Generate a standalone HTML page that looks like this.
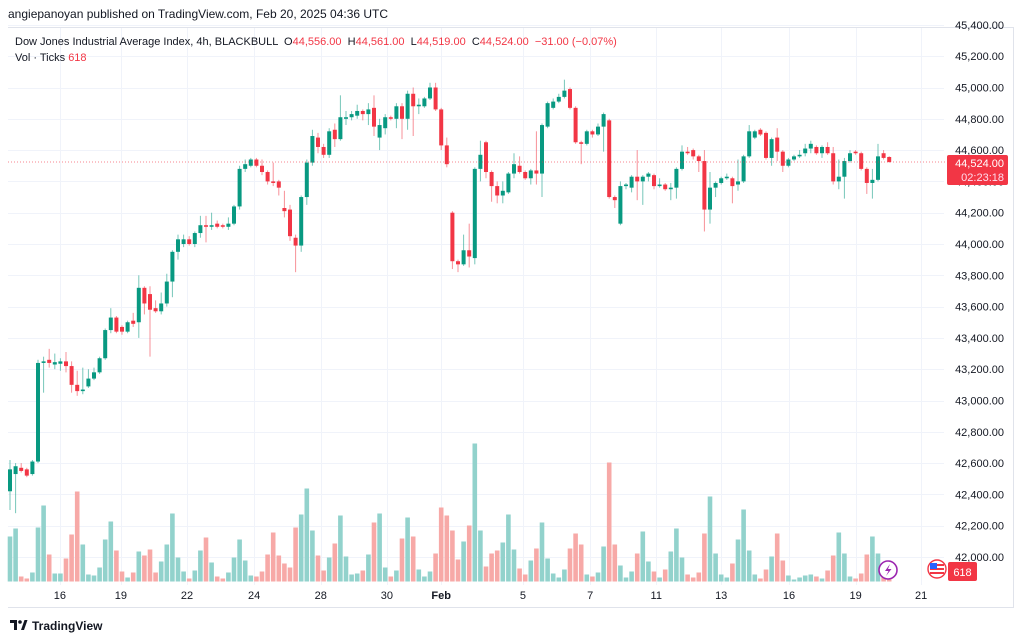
<!DOCTYPE html>
<html><head><meta charset="utf-8"><title>Dow Jones 4h chart</title>
<style>
html,body{margin:0;padding:0;background:#fff;width:1024px;height:641px;overflow:hidden;font-family:"Liberation Sans",sans-serif;}
svg text{font-family:"Liberation Sans",sans-serif;}
.pre{white-space:pre;}
</style></head>
<body>
<svg id="chart" width="1024" height="641" viewBox="0 0 1024 641" xmlns="http://www.w3.org/2000/svg">
<rect x="0" y="0" width="1024" height="641" fill="#fff"/>
<text x="8" y="18" font-size="12" fill="#131722">angiepanoyan published on TradingView.com, Feb 20, 2025 04:36 UTC</text>
<line x1="8" y1="27.5" x2="1014" y2="27.5" stroke="#e0e3eb"/>
<line x1="8" y1="607.5" x2="1014" y2="607.5" stroke="#e0e3eb"/>
<line x1="1013.5" y1="27" x2="1013.5" y2="608" stroke="#e0e3eb"/>
<g id="grid"></g>
<g id="vols"></g>
<g id="candles"></g>
<g id="yaxis"></g>
<g id="xaxis"></g>
<text class="pre" xml:space="preserve" x="15" y="45" font-size="11" fill="#131722">Dow Jones Industrial Average Index, 4h, BLACKBULL  O<tspan fill="#f23645">44,556.00</tspan>  H<tspan fill="#f23645">44,561.00</tspan>  L<tspan fill="#f23645">44,519.00</tspan>  C<tspan fill="#f23645">44,524.00</tspan>  <tspan fill="#f23645">−31.00 (−0.07%)</tspan></text>
<text x="15" y="61" font-size="11" fill="#131722">Vol · Ticks <tspan fill="#f23645">618</tspan></text>
<g>
<rect x="947" y="155" width="61" height="30" rx="2" fill="#f23645"/>
<text x="1004" y="167" font-size="11" fill="#fff" text-anchor="end">44,524.00</text>
<text x="1004" y="181" font-size="11" fill="#fde" text-anchor="end">02:23:18</text>
</g>
<g>
<rect x="948" y="562" width="29" height="19" rx="2" fill="#f23645"/>
<text x="962.5" y="576" font-size="11" fill="#fff" text-anchor="middle">618</text>
</g>
<g>
<circle cx="888" cy="570" r="9" fill="#fff" stroke="#9c27b0" stroke-width="1.6"/>
<path d="M890 564 L885 571 L888.5 571 L886 576 L891.5 569 L888 569 Z" fill="#9c27b0"/>
</g>
<g>
<circle cx="937" cy="569" r="9" fill="#fff" stroke="#f23645" stroke-width="1.4"/>
<rect x="930" y="564" width="14" height="2" fill="#f23645"/>
<rect x="930" y="568" width="14" height="2" fill="#f23645"/>
<rect x="930" y="572" width="14" height="2" fill="#f23645"/>
<rect x="930" y="563" width="7" height="6" fill="#2962ff"/>
</g>
<g>
<path d="M10 620 h7 v10 h-3 v-7 h-4 z" fill="#131722"/>
<circle cx="20" cy="622" r="1.8" fill="#131722"/>
<path d="M21 630 l3.5 -10 h3 l-3.5 10 z" fill="#131722"/>
<text x="32" y="630" font-size="12" font-weight="bold" fill="#131722">TradingView</text>
</g>
</svg>
<script>
const opens=[42420,42530,42570,42560,42530,42610,43240,43260,43230,43235,43250,43220,43100,43060,43090,43140,43180,43270,43450,43530,43470,43440,43510,43500,43720,43680,43590,43570,43620,43760,43950,44000,44030,44000,44070,44120,44110,44130,44120,44110,44130,44240,44480,44500,44540,44500,44460,44400,44400,44230,44220,44040,43990,44300,44520,44680,44620,44570,44730,44670,44800,44810,44820,44850,44830,44870,44680,44740,44810,44800,44880,44800,44960,44880,44880,44930,45000,44860,44630,44200,43890,43870,43960,43910,44480,44650,44460,44370,44310,44330,44450,44500,44460,44420,44470,44450,44750,44870,44910,44940,44990,44870,44650,44640,44720,44700,44750,44790,44300,44130,44370,44360,44430,44400,44430,44440,44370,44380,44350,44360,44480,44590,44600,44560,44530,44220,44360,44390,44420,44420,44380,44400,44560,44680,44730,44710,44550,44680,44590,44500,44540,44560,44580,44610,44620,44580,44620,44580,44400,44430,44530,44590,44580,44480,44390,44410,44580,44556];
const highs=[42620,42600,42600,42570,42620,43260,43280,43330,43300,43270,43310,43250,43190,43210,43200,43210,43280,43460,43590,43540,43480,43510,43560,43800,43730,43730,43640,43690,43810,43960,44060,44060,44050,44080,44180,44180,44200,44150,44130,44170,44250,44500,44540,44550,44550,44540,44470,44520,44410,44340,44250,44060,44310,44540,44730,44710,44640,44740,44770,44950,44850,44850,44890,44860,44900,44950,44800,44830,44820,44900,44900,44980,45000,44930,44940,45030,45030,44870,44680,44210,43900,44060,44130,44490,44660,44660,44470,44400,44400,44460,44580,44560,44470,44480,44720,44770,44910,44930,44960,45050,45000,44880,44660,44730,44730,44770,44840,44800,44310,44400,44390,44440,44600,44440,44460,44450,44420,44390,44390,44490,44630,44620,44610,44570,44600,44460,44400,44430,44450,44430,44540,44570,44760,44730,44740,44720,44680,44740,44600,44550,44570,44600,44640,44660,44630,44630,44650,44620,44540,44550,44600,44600,44590,44490,44480,44640,44600,44561];
const lows=[42300,42280,42540,42510,42520,42600,43050,43210,43200,43190,43180,43050,43030,43040,43080,43130,43170,43260,43430,43430,43420,43430,43470,43400,43550,43280,43560,43550,43600,43660,43900,43980,43990,43980,44040,44010,44090,44100,44100,44090,44120,44220,44460,44490,44490,44440,44380,44370,44310,44170,44020,43820,43950,44250,44500,44580,44550,44550,44620,44660,44760,44790,44800,44790,44760,44690,44600,44700,44790,44740,44670,44730,44690,44830,44870,44920,44850,44600,44490,43840,43820,43860,43850,43870,44400,44420,44270,44260,44260,44320,44420,44450,44410,44380,44380,44300,44740,44860,44900,44930,44860,44640,44510,44630,44680,44690,44590,44290,44230,44120,44350,44330,44280,44250,44400,44350,44360,44340,44280,44290,44470,44570,44540,44460,44080,44130,44300,44380,44410,44260,44340,44390,44550,44670,44690,44540,44500,44530,44460,44490,44530,44550,44560,44580,44570,44550,44570,44380,44350,44290,44520,44570,44470,44320,44290,44400,44540,44519];
const closes=[42560,42580,42550,42520,42610,43240,43250,43240,43245,43250,43220,43100,43060,43070,43140,43180,43270,43450,43530,43440,43440,43500,43490,43720,43620,43580,43570,43620,43760,43950,44030,44030,44000,44070,44120,44110,44120,44110,44110,44130,44240,44480,44510,44540,44500,44460,44400,44390,44360,44210,44050,43990,44300,44520,44690,44620,44570,44720,44670,44810,44810,44830,44850,44830,44860,44750,44760,44810,44800,44880,44800,44960,44880,44890,44930,45000,44860,44630,44510,43890,43870,43960,43920,44480,44570,44460,44370,44310,44340,44450,44510,44460,44420,44470,44450,44760,44900,44910,44940,44980,44870,44650,44640,44720,44700,44750,44830,44300,44280,44370,44380,44430,44400,44430,44450,44370,44380,44350,44360,44480,44590,44580,44560,44530,44220,44360,44390,44420,44430,44370,44400,44560,44720,44720,44700,44550,44670,44590,44500,44540,44560,44570,44610,44640,44580,44620,44580,44400,44430,44530,44580,44580,44480,44390,44410,44560,44550,44524];
const volumes=[45,53,5,3,9,54,76,27,8,8,23,47,90,37,7,6,14,42,60,31,10,4,9,30,26,32,9,20,37,68,24,10,3,11,31,44,19,5,3,9,24,42,21,6,5,10,27,49,26,18,14,54,67,93,51,26,11,24,38,66,25,7,8,11,27,59,68,14,5,11,43,64,45,12,5,10,28,74,66,51,22,40,56,138,51,15,28,31,39,67,32,13,7,21,33,59,23,8,4,12,33,48,37,7,5,9,35,119,37,16,4,10,28,50,20,10,4,12,30,53,24,7,4,9,48,85,28,7,4,18,42,72,31,7,3,12,25,48,21,6,2,4,6,7,5,3,11,26,49,28,5,3,8,27,45,28,5,3];
const priceTicks=[42000,42200,42400,42600,42800,43000,43200,43400,43600,43800,44000,44200,44400,44600,44800,45000,45200,45400];
const dateLabels=["16","19","22","24","28","30","Feb","5","7","11","13","16","19","21"];
const dateIdx=[8.9,19.8,31.6,43.6,55.5,67.3,77,91.6,103.6,115.4,127,139.1,151,162.7];
const lastPrice=44524;

const NS="http://www.w3.org/2000/svg";
function yP(p){return 557-(p-42000)*0.1565;}
function xI(i){return 10+i*5.6;}
function yV(v){return 581.5-v*1.0;}
function mk(tag,attrs,parent){const e=document.createElementNS(NS,tag);for(const k in attrs)e.setAttribute(k,attrs[k]);parent.appendChild(e);return e;}

const grid=document.getElementById('grid');
const yaxis=document.getElementById('yaxis');
const xaxis=document.getElementById('xaxis');
priceTicks.forEach(p=>{
  const y=Math.round(yP(p))+0.5;
  const l=mk('line',{x1:8,x2:944,y1:y,y2:y,stroke:'#f0f3fa'},grid);
  
  
  const t=mk('text',{x:1004,y:yP(p)+4,'font-size':11,fill:'#131722','text-anchor':'end'},yaxis);
  t.textContent=p.toLocaleString('en-US')+'.00';
  
  
});
dateLabels.forEach((d,k)=>{
  const x=Math.round(xI(dateIdx[k]))+0.5;
  const l=mk('line',{x1:x,x2:x,y1:28,y2:585,stroke:'#f0f3fa'},grid);
  
  
  const t=mk('text',{x:xI(dateIdx[k]),y:599,'font-size':11,fill:'#131722','text-anchor':'middle','font-weight':d==='Feb'?'bold':'normal'},xaxis);
  t.textContent=d;
  
  
});

const vg=document.getElementById('vols');
const cg=document.getElementById('candles');
for(let i=0;i<opens.length;i++){
  const up=closes[i]>=opens[i];
  const x=xI(i);
  const vb=mk('rect',{x:x-2.3,y:yV(volumes[i]),width:4.6,height:volumes[i]*1.0,fill:up?'#92d2cc':'#f7a9a7'},vg);
  
  
  const col=up?'#089981':'#f23645';
  const w=mk('line',{x1:x,x2:x,y1:yP(highs[i]),y2:yP(lows[i]),stroke:col,'stroke-width':1,opacity:0.55},cg);
  
  
  const top=yP(Math.max(opens[i],closes[i])), bot=yP(Math.min(opens[i],closes[i]));
  const b=mk('rect',{x:x-2,y:top,width:4,height:Math.max(1.5,bot-top),fill:col},cg);
  
  
}
const ly=yP(lastPrice);
const pl=mk('line',{x1:8,x2:946,y1:ly,y2:ly,stroke:'#f23645','stroke-width':1,'stroke-dasharray':'1 2',opacity:0.6},cg);


</script>
</body></html>
